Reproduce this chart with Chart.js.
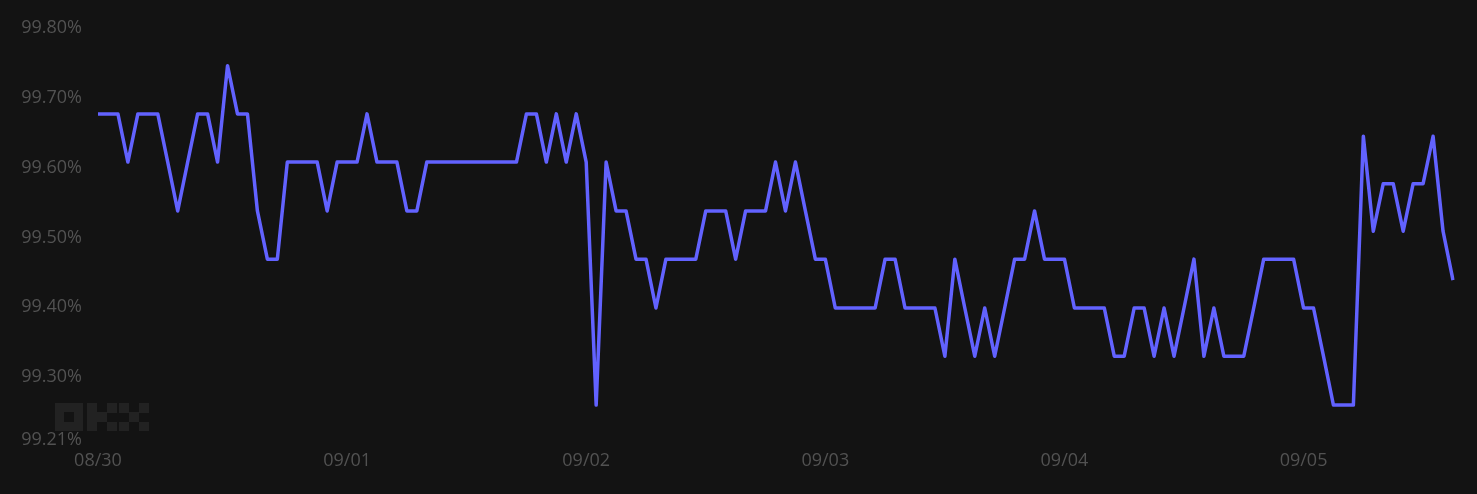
<!DOCTYPE html>
<html>
<head>
<meta charset="utf-8">
<script src="https://cdn.jsdelivr.net/npm/chart.js@4.4.1/dist/chart.umd.min.js"></script>
<style>
  html, body { margin: 0; padding: 0; background: #131313; }
  canvas { display: block; }
</style>
</head>
<body>
<canvas id="uptimeChart" width="1477" height="494"></canvas>
<script>
// hourly uptime (%), 137 points
const uptime = [
  99.677, 99.677, 99.677, 99.608, 99.677, 99.677, 99.677, 99.608, 99.538, 99.608,
  99.677, 99.677, 99.608, 99.746, 99.677, 99.677, 99.538, 99.469, 99.469, 99.608,
  99.608, 99.608, 99.608, 99.538, 99.608, 99.608, 99.608, 99.677, 99.608, 99.608,
  99.608, 99.538, 99.538, 99.608, 99.608, 99.608, 99.608, 99.608, 99.608, 99.608,
  99.608, 99.608, 99.608, 99.677, 99.677, 99.608, 99.677, 99.608, 99.677, 99.608,
  99.260, 99.608, 99.538, 99.538, 99.469, 99.469, 99.399, 99.469, 99.469, 99.469,
  99.469, 99.538, 99.538, 99.538, 99.469, 99.538, 99.538, 99.538, 99.608, 99.538,
  99.608, 99.538, 99.469, 99.469, 99.399, 99.399, 99.399, 99.399, 99.399, 99.469,
  99.469, 99.399, 99.399, 99.399, 99.399, 99.330, 99.469, 99.399, 99.330, 99.399,
  99.330, 99.399, 99.469, 99.469, 99.538, 99.469, 99.469, 99.469, 99.399, 99.399,
  99.399, 99.399, 99.330, 99.330, 99.399, 99.399, 99.330, 99.399, 99.330, 99.399,
  99.469, 99.330, 99.399, 99.330, 99.330, 99.330, 99.399, 99.469, 99.469, 99.469,
  99.469, 99.399, 99.399, 99.330, 99.260, 99.260, 99.260, 99.645, 99.509, 99.577,
  99.577, 99.509, 99.577, 99.577, 99.645, 99.509, 99.439
];
const dayLabels = ["08/30", "09/01", "09/02", "09/03", "09/04", "09/05"];
const dayIndex = [0, 25, 49, 73, 97, 121];
const yTicks = [99.21, 99.30, 99.40, 99.50, 99.60, 99.70, 99.80];

const labels = uptime.map((v, i) => {
    const k = dayIndex.indexOf(i);
    return k >= 0 ? dayLabels[k] : "";
});

const textColor = "#525252";
const font = { family: "'Open Sans', 'Noto Sans', sans-serif", size: 18 };

// dark background + faint OKX mark
const backdrop = {
    id: "backdrop",
    beforeDraw(chart) {
        const c = chart.ctx;
        c.save();
        c.fillStyle = "#131313";
        c.fillRect(0, 0, chart.width, chart.height);
        c.fillStyle = "#222222";
        // O
        c.fillRect(55, 403, 28, 28);
        c.fillStyle = "#131313";
        c.fillRect(64, 412, 10, 10);
        c.fillStyle = "#222222";
        // K
        c.fillRect(87, 403, 10, 28);
        c.fillRect(97, 412, 10, 10);
        c.fillRect(107, 403, 10, 10);
        c.fillRect(107, 422, 10, 9);
        // X
        c.fillRect(119, 403, 10, 10);
        c.fillRect(119, 422, 10, 9);
        c.fillRect(129, 412, 10, 10);
        c.fillRect(139, 403, 10, 10);
        c.fillRect(139, 422, 10, 9);
        c.restore();
    }
};

const ctx = document.getElementById("uptimeChart").getContext("2d");
const uptimeChart = new Chart(ctx, {
    type: "line",
    data: {
        labels: labels,
        datasets: [{
            data: uptime,
            borderColor: "#6262ff",
            borderWidth: 3.5,
            borderJoinStyle: "round",
            pointRadius: 0,
            fill: false,
            tension: 0
        }]
    },
    options: {
        responsive: false,
        devicePixelRatio: 1,
        animation: false,
        layout: { padding: { top: 28, right: 24, left: 0, bottom: 0 } },
        plugins: { legend: { display: false }, tooltip: { enabled: false } },
        scales: {
            x: {
                type: "category",
                grid: { display: false, drawTicks: false },
                border: { display: false },
                ticks: {
                    color: textColor,
                    font: font,
                    autoSkip: false,
                    maxRotation: 0,
                    padding: 10
                },
                afterFit(scale) { scale.height = 54; }
            },
            y: {
                min: 99.21,
                max: 99.80,
                grid: { display: false, drawTicks: false },
                border: { display: false },
                ticks: {
                    color: textColor,
                    font: font,
                    padding: 16,
                    callback: v => v.toFixed(2) + "%"
                },
                afterBuildTicks(scale) {
                    scale.ticks = yTicks.map(v => ({ value: v }));
                },
                afterFit(scale) { scale.width = 98; }
            }
        }
    },
    plugins: [backdrop]
});
</script>
</body>
</html>
